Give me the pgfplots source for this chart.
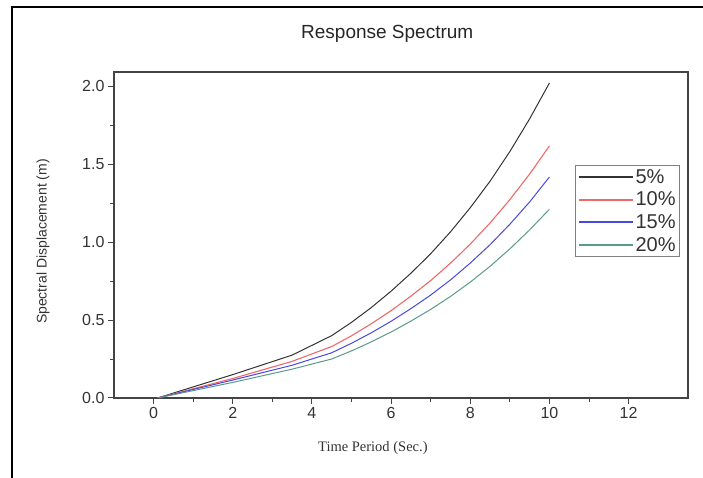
\documentclass[border=0pt]{standalone}
\usepackage{pgfplots}
\pgfplotsset{compat=1.18}
\usepackage{fontspec}
\setmainfont{Liberation Sans}
\newfontfamily\serifx{Liberation Serif}
\definecolor{cblack}{HTML}{333333}
\definecolor{cred}{HTML}{F06868}
\definecolor{cblue}{HTML}{4848E0}
\definecolor{cteal}{HTML}{5A9A8C}
\definecolor{axgray}{HTML}{444444}
\begin{document}
\begin{tikzpicture}
\path[use as bounding box] (-114pt,-80pt) rectangle (589pt,398pt);
\draw[line width=1.6pt,black] (-102pt,-80pt) -- (-102pt,391pt) -- (589pt,391pt);
\begin{axis}[
  scale only axis,
  width=574pt, height=326pt,
  xmin=-1, xmax=13.5, ymin=0, ymax=2.09,
  xtick={0,2,4,6,8,10,12},
  ytick={0,0.5,1,1.5,2},
  minor x tick num=1, minor y tick num=1,
  xtick pos=bottom, ytick pos=left,
  tick align=outside,
  major tick length=6pt, minor tick length=4pt,
  axis line style={axgray, line width=1.1pt},
  every tick/.style={axgray, line width=1pt},
  /pgf/number format/assume math mode=true,
  yticklabel style={/pgf/number format/.cd, fixed, fixed zerofill, precision=1},
  ticklabel style={font=\fontsize{16}{18}\selectfont, text=black!80},
  title={Response Spectrum},
  title style={at={(axis description cs:0.476,1)}, anchor=base, yshift=27pt, font=\fontsize{19}{22}\selectfont, text=black!85},
  xlabel={Time Period (Sec.)},
  xlabel style={at={(axis description cs:0.451,0)}, anchor=base, yshift=-53pt, font=\serifx\fontsize{14.5}{16}\selectfont, text=black!80},
  ylabel={Spectral Displacement (m)},
  ylabel style={at={(axis description cs:0,0.48)}, anchor=center, yshift=71pt, font=\fontsize{14}{16}\selectfont, text=black!80},
  legend style={at={(rel axis cs:0.986,0.715)}, anchor=north east, draw=gray, line width=0.8pt,
    font=\fontsize{20}{22}\selectfont, text=black!80, row sep=3.3pt, inner sep=2pt},
  legend cell align=left,
  legend image code/.code={\draw[#1, line width=2pt] (-4pt,0pt) -- (50pt,0pt);},
]
\addplot[cblack, line width=1pt] coordinates {
(0.1,0) (2,0.15) (3.5,0.275) (4.5,0.40) (5,0.485) (5.5,0.58) (6,0.685) (6.5,0.80) (7,0.925) (7.5,1.065) (8,1.22) (8.5,1.39) (9,1.58) (9.5,1.79) (10,2.02)};
\addlegendentry{5\%}
\addplot[cred, line width=1.1pt] coordinates {
(0.1,0) (2,0.125) (3.5,0.235) (4.5,0.33) (5,0.399) (5.5,0.476) (6,0.560) (6.5,0.653) (7,0.753) (7.5,0.864) (8,0.987) (8.5,1.122) (9,1.272) (9.5,1.436) (10,1.616)};
\addlegendentry{10\%}
\addplot[cblue, line width=1pt] coordinates {
(0.1,0) (2,0.115) (3.5,0.21) (4.5,0.29) (5,0.351) (5.5,0.418) (6,0.492) (6.5,0.573) (7,0.660) (7.5,0.757) (8,0.865) (8.5,0.983) (9,1.114) (9.5,1.257) (10,1.417)};
\addlegendentry{15\%}
\addplot[cteal, line width=1pt] coordinates {
(0.1,0) (2,0.10) (3.5,0.185) (4.5,0.25) (5,0.302) (5.5,0.360) (6,0.423) (6.5,0.493) (7,0.568) (7.5,0.651) (8,0.743) (8.5,0.844) (9,0.956) (9.5,1.078) (10,1.21)};
\addlegendentry{20\%}
\end{axis}
\end{tikzpicture}
\end{document}
